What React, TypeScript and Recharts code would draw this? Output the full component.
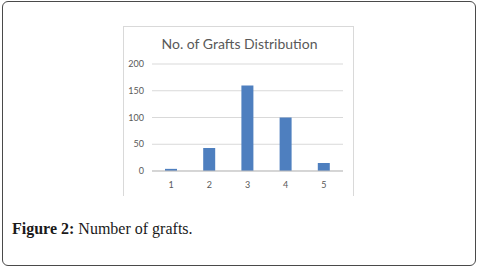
import React from 'react';
import { BarChart, Bar, XAxis, YAxis, CartesianGrid } from 'recharts';

const categories = ['1', '2', '3', '4', '5'];
const grafts = [4, 43, 160, 100, 15];
const yTicks = [0, 50, 100, 150, 200];

const data = categories.map((name, i) => ({ name, grafts: grafts[i] }));

const tickStyle = { fill: '#595959', fontSize: 9, fontFamily: 'Lato, "Open Sans", sans-serif' };

const App: React.FC = () => {
  return (
    <div style={{ position: 'absolute', left: 0, top: 0, width: 479, height: 268, background: '#fff' }}>
      <div
        style={{
          position: 'absolute',
          left: 2,
          top: 1,
          width: 472,
          height: 263,
          border: '1px solid #4a4a4a',
          borderRadius: 6,
        }}
      />
      <div
        style={{
          position: 'absolute',
          left: 123,
          top: 26,
          width: 231,
          height: 170,
          borderLeft: '1px solid #d9d9d9',
          borderTop: '1px solid #d9d9d9',
          borderRight: '1px solid #d9d9d9',
          boxSizing: 'border-box',
        }}
      >
        <div
          style={{
            position: 'absolute',
            left: 0,
            width: 231,
            top: 8,
            textAlign: 'center',
            fontFamily: 'Lato, "Open Sans", sans-serif',
            fontSize: 14,
            color: '#595959',
            lineHeight: '17px',
          }}
        >
          No. of Grafts Distribution
        </div>
        <div style={{ position: 'absolute', left: -1, top: -1 }}>
          <BarChart width={231} height={170} data={data} margin={{ top: 38, right: 11, left: 0, bottom: 5 }}>
            <CartesianGrid vertical={false} stroke="#d9d9d9" />
            <XAxis
              dataKey="name"
              tick={tickStyle}
              tickLine={false}
              axisLine={{ stroke: '#bfbfbf' }}
              height={20}
              tickMargin={5}
            />
            <YAxis
              domain={[0, 200]}
              ticks={yTicks}
              tick={tickStyle}
              tickLine={false}
              axisLine={false}
              width={29}
            />
            <Bar dataKey="grafts" fill="#4e7fbf" barSize={12} isAnimationActive={false} />
          </BarChart>
        </div>
      </div>
      <div
        style={{
          position: 'absolute',
          left: 12,
          top: 218,
          fontFamily: '"Liberation Serif", "DejaVu Serif", serif',
          fontSize: 16,
          color: '#1a1a1a',
          lineHeight: '22px',
        }}
      >
        <span style={{ fontWeight: 'bold' }}>Figure 2:</span> Number of grafts.
      </div>
    </div>
  );
};

export default App;
